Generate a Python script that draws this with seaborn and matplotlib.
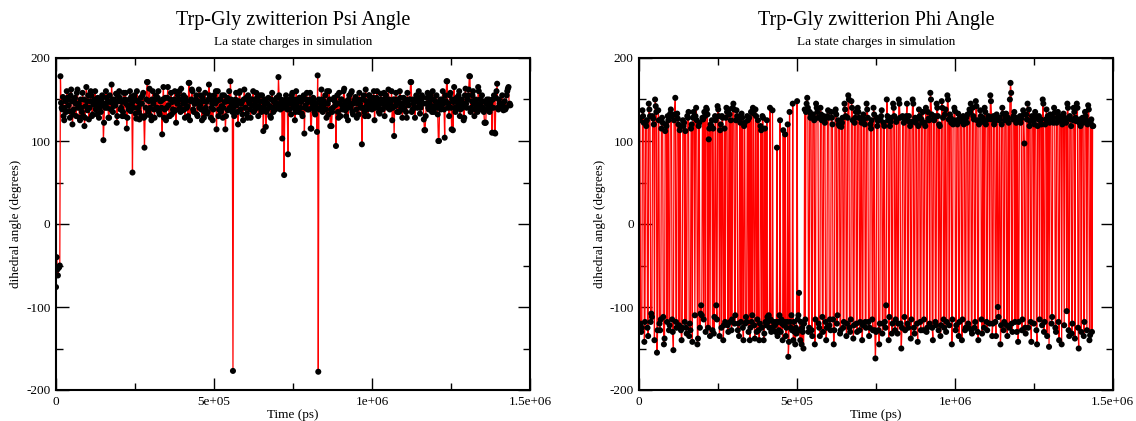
import numpy as np
import pandas as pd
import seaborn as sns
import matplotlib.pyplot as plt
from matplotlib.ticker import FixedLocator, FixedFormatter, MultipleLocator

sns.set_theme(style="ticks")
plt.rcParams['font.family'] = ['Liberation Serif', 'DejaVu Serif']

# Sampling interval of the dihedral trajectory (ps)
time_step_ps = 2000

# Psi dihedral angle (degrees), one value per frame
psi_deg = [
    -76, -40, -55, -62, -53, -52, -50, 178, 146, 140, 138, 153, 130, 125, 140, 148, 135, 160, 152, 150,
    143, 136, 128, 155, 162, 148, 120, 132, 138, 150, 152, 145, 130, 158, 162, 140, 145, 128, 125, 150,
    140, 135, 158, 130, 150, 118, 128, 142, 165, 148, 137, 155, 126, 140, 148, 160, 155, 130, 132, 144,
    145, 150, 160, 138, 140, 132, 152, 146, 128, 140, 147, 135, 150, 155, 143, 101, 122, 145, 140, 160,
    152, 140, 147, 128, 128, 155, 147, 138, 168, 150, 135, 142, 150, 145, 143, 157, 122, 130, 155, 148,
    160, 152, 138, 140, 147, 130, 135, 158, 130, 150, 158, 145, 115, 128, 142, 138, 150, 160, 136, 153,
    145, 62, 148, 140, 155, 150, 133, 127, 160, 148, 140, 135, 126, 145, 152, 130, 145, 155, 158, 128,
    92, 130, 140, 150, 171, 171, 135, 148, 163, 140, 130, 125, 150, 160, 145, 138, 128, 150, 155, 140,
    140, 152, 160, 135, 132, 148, 148, 140, 108, 150, 165, 128, 138, 152, 125, 140, 152, 165, 143, 130,
    130, 150, 158, 132, 147, 138, 135, 150, 160, 137, 122, 148, 145, 155, 150, 160, 140, 135, 163, 150,
    137, 145, 155, 138, 128, 152, 148, 140, 142, 130, 170, 170, 125, 148, 150, 162, 160, 138, 135, 145,
    145, 150, 155, 132, 130, 148, 162, 140, 143, 155, 138, 125, 152, 148, 128, 135, 158, 140, 147, 133,
    135, 150, 168, 155, 150, 128, 140, 145, 125, 138, 155, 150, 145, 160, 114, 148, 160, 130, 138, 150,
    150, 135, 142, 155, 128, 140, 155, 147, 114, 130, 148, 152, 137, 148, 160, 140, 172, 150, 145, 135,
    -177, 140, 130, 145, 150, 158, 143, 135, 120, 148, 158, 160, 138, 145, 147, 132, 125, 150, 162, 140,
    140, 152, 133, 128, 155, 148, 145, 138, 128, 150, 150, 143, 160, 135, 137, 148, 143, 158, 152, 140,
    130, 142, 148, 155, 140, 135, 155, 148, 112, 140, 145, 150, 117, 135, 138, 145, 152, 140, 142, 130,
    128, 150, 158, 140, 135, 147, 148, 138, 145, 152, 145, 140, 177, 155, 140, 138, 150, 145, 103, 140,
    145, 59, 142, 150, 155, 140, 138, 84, 145, 138, 150, 145, 132, 155, 158, 140, 145, 150, 125, 135,
    160, 145, 140, 150, 135, 152, 152, 140, 147, 133, 130, 150, 155, 109, 140, 143, 150, 158, 138, 147,
    138, 150, 158, 115, 115, 140, 145, 152, 150, 135, 132, 145, 140, 111, 179, -178, 150, 138, 140, 145,
    162, 150, 135, 140, 148, 145, 155, 138, 128, 160, 145, 132, 160, 150, 118, 138, 118, 135, 140, 150,
    152, 148, 143, 94, 145, 155, 135, 128, 158, 145, 130, 150, 150, 138, 142, 160, 163, 145, 137, 130,
    148, 140, 125, 150, 155, 145, 140, 158, 160, 135, 132, 145, 147, 150, 153, 138, 128, 150, 145, 132,
    158, 145, 140, 150, 96, 140, 150, 155, 135, 130, 162, 148, 143, 138, 130, 155, 155, 150, 145, 140,
    138, 145, 152, 160, 125, 140, 148, 152, 160, 145, 140, 135, 133, 150, 157, 145, 145, 138, 150, 158,
    130, 142, 155, 148, 142, 140, 162, 150, 138, 145, 148, 160, 125, 140, 150, 106, 150, 142, 158, 145,
    135, 150, 145, 135, 160, 152, 140, 145, 128, 138, 152, 140, 147, 150, 135, 128, 158, 145, 143, 150,
    150, 171, 171, 135, 138, 150, 145, 140, 128, 150, 155, 148, 140, 152, 160, 143, 133, 140, 148, 155,
    152, 145, 126, 113, 113, 130, 145, 152, 158, 140, 138, 145, 150, 155, 142, 135, 160, 150, 135, 140,
    148, 143, 155, 140, 132, 100, 100, 145, 150, 138, 143, 150, 160, 145, 138, 104, 155, 148, 172, 172,
    140, 145, 130, 155, 158, 140, 114, 150, 113, 147, 165, 140, 135, 138, 152, 148, 143, 155, 160, 130,
    138, 145, 150, 140, 145, 125, 128, 155, 163, 145, 140, 150, 155, 162, 178, 178, 135, 140, 148, 155,
    160, 145, 130, 138, 150, 145, 142, 135, 165, 160, 138, 150, 145, 140, 155, 148, 140, 135, 122, 122,
    122, 145, 150, 138, 143, 150, 135, 145, 148, 140, 110, 150, 140, 155, 110, 109, 152, 160, 169, 140,
    138, 150, 145, 142, 142, 140, 155, 145, 137, 140, 148, 138, 140, 155, 160, 163, 165, 143, 145, 143,
]

# Phi dihedral angle (degrees), one value per frame
phi_deg = [
    128, 125, -120, -130, -125, 137, 130, 122, -142, -118, 122, 118, 125, -125, -135, 145, 138, 130, -118, -108,
    -112, 130, 127, 120, -140, 150, 142, 135, -155, -128, 137, 125, -120, -128, -115, 115, 128, 122, -112, -145,
    -138, 112, 120, 118, -118, 130, 125, -128, -122, 133, 138, 130, -115, -130, -152, 125, 132, 152, -118, -125,
    133, 127, 120, -122, 113, 118, -128, -140, -125, 125, 118, 122, -118, 112, -125, -132, 130, 128, 135, -135,
    -120, -128, 115, 120, -142, 128, 135, 130, -110, 130, 140, 125, -145, -138, 118, 122, -125, -108, -98, -110,
    128, 126, -115, 135, 130, -130, 140, 138, 132, -125, 102, 115, -135, 120, 118, 125, -128, 115, -132, -112,
    130, 125, -98, -115, 142, 138, 130, -135, 113, 120, -125, 130, 128, -140, -122, 115, -118, 128, 140, 135,
    -122, -130, 138, 132, -118, 125, -128, -115, 140, 145, 138, -120, -110, 125, 137, 130, -128, -120, -135, 128,
    122, -118, 133, 128, -125, -140, 118, 122, -120, -112, -118, 130, 125, -130, 128, -140, -125, 135, -118, -110,
    140, 133, -122, -138, 138, 130, -130, -115, 125, -128, -140, -120, 118, 113, -125, 130, 128, -140, -132, 115,
    -118, -122, 125, -112, -118, -110, -125, 140, -115, -130, -125, 137, -128, -118, -120, -122, -130, -118, 92, -135,
    -118, -128, -110, 125, -130, -115, -120, -140, 113, -122, -118, 108, -135, -125, -118, 120, -160, -142, 135, -118,
    -125, -110, -128, 145, -140, -118, -130, -145, -125, -132, 148, -115, -110, -83, -128, -140, -118, -145, -125, -130,
    -150, -120, 138, -115, 135, 145, 152, 140, -130, -125, 135, 128, 132, -128, -135, 132, 128, 125, -145, -115,
    145, 140, 135, 128, -120, -125, -135, 140, 132, 125, -112, -130, 130, 125, 122, -118, -140, -125, 130, 137,
    128, -122, -115, -128, 135, 128, 120, -115, -145, -128, 135, 138, 132, -120, -110, 125, 120, 118, -132, -128,
    117, 122, 128, -125, -118, 145, 138, 130, -135, -120, 128, 155, 150, -125, -130, -115, 148, 140, 125, -138,
    -122, 122, 128, 135, -120, -130, 140, 135, 128, -128, -118, 127, 122, -140, -122, 132, 126, 120, -118, -125,
    145, 138, 128, -118, -135, -125, 120, 115, 125, -115, -128, 140, 132, -128, -162, -130, 128, 118, 124, -128,
    -145, -120, 126, 130, 137, -132, -120, 122, 118, -118, -125, -98, 150, 130, 125, -140, -112, 118, 123, 128,
    -132, -120, 145, 140, 130, -128, -115, 123, 126, -132, -120, 150, 145, 128, -120, -150, -125, 130, 128, 122,
    -112, -128, 125, 130, 145, -120, -125, 130, 123, 118, -138, -115, 123, 150, 145, -125, -132, 128, 122, 126,
    -120, -142, 118, 138, 130, -118, -128, 126, 122, 135, -128, -115, 122, 118, 140, -130, -125, 135, 127, 125,
    -120, 158, 150, 132, -125, -140, 126, 125, 130, -118, -122, 145, 140, 130, -128, 120, 118, -135, -122, 148,
    140, 128, -115, -125, 132, 138, -130, -118, 155, 150, 126, -122, 132, 128, 122, -145, -115, 120, 125, 140,
    136, -128, -122, 125, 120, 133, -135, -118, 128, 124, 125, -140, -115, 130, 120, 126, -128, -125, 128, 122,
    132, -120, -125, 138, 135, 145, -128, -132, 140, 130, 126, -125, -118, 148, 142, 125, -130, -140, 120, 125,
    137, 130, -115, -132, 128, 123, -125, 140, 135, 120, -118, -128, 126, 130, 128, -120, 155, 148, 126, -135,
    -120, 130, 120, 124, -118, -135, 132, 128, -100, -112, 125, 128, -145, -122, 120, 140, 133, -128, -118, 125,
    130, 133, -122, -135, 128, 122, -125, 150, 170, 158, -120, -130, 126, 130, 135, -118, 128, 122, -130, 126,
    -142, -118, 125, 130, 122, 127, -128, -115, 137, 132, 97, -125, -132, 132, 126, 145, -125, 138, 118, 124,
    -118, -142, 130, 125, 124, -120, 120, 135, 130, -128, -145, 118, 126, 130, -115, 125, 126, 120, -122, 150,
    145, -130, -118, 120, 126, 138, -135, 130, 125, -148, 122, 132, 128, -120, -112, 128, 122, 140, 134, -125,
    -130, 122, 128, 135, -118, -140, 130, 128, 124, -145, 120, 126, 133, -122, 128, 126, 122, -105, 145, 140,
    -128, -135, 130, 126, 118, -132, -120, 125, 140, 135, -138, 128, 124, 145, 140, -125, -150, 122, 126, 118,
    -130, 124, 128, 122, -135, -118, 135, 130, 125, -128, 120, 143, 138, -140, -134, 122, 126, -130, 118, 118,
]

panel_titles = ["Trp-Gly zwitterion Psi Angle", "Trp-Gly zwitterion Phi Angle"]
subtitle = "La state charges in simulation"
x_label = "Time (ps)"
y_label = "dihedral angle (degrees)"
x_tick_values = [0, 500000, 1000000, 1500000]
x_tick_labels = ["0", "5e+05", "1e+06", "1.5e+06"]
y_tick_values = [-200, -100, 0, 100, 200]
y_tick_labels = ["-200", "-100", "0", "100", "200"]


def frame(values):
    return pd.DataFrame({"time": np.arange(len(values)) * time_step_ps,
                         "angle": values})


W, H = 1136, 421
fig = plt.figure(figsize=(W / 100, H / 100), dpi=100)
ax_psi = fig.add_axes([56 / W, 31 / H, 474 / W, 332 / H])
ax_phi = fig.add_axes([639.3 / W, 31 / H, 473.5 / W, 332 / H])

for ax, values, title in zip([ax_psi, ax_phi], [psi_deg, phi_deg], panel_titles):
    df = frame(values)
    sns.lineplot(data=df, x="time", y="angle", ax=ax, color="red",
                 linewidth=0.9, sort=False, estimator=None, zorder=2)
    sns.scatterplot(data=df, x="time", y="angle", ax=ax, color="black",
                    s=19, linewidth=0, edgecolor="none", zorder=3)

    ax.set_xlim(0, 1500000)
    ax.set_ylim(-200, 200)
    ax.xaxis.set_major_locator(FixedLocator(x_tick_values))
    ax.xaxis.set_major_formatter(FixedFormatter(x_tick_labels))
    ax.xaxis.set_minor_locator(MultipleLocator(250000))
    ax.yaxis.set_major_locator(FixedLocator(y_tick_values))
    ax.yaxis.set_major_formatter(FixedFormatter(y_tick_labels))
    ax.yaxis.set_minor_locator(MultipleLocator(50))

    ax.tick_params(which="both", direction="in", top=True, right=True,
                   width=1.0, color="black", labelsize=9.5, labelcolor="black")
    ax.tick_params(which="major", length=9, pad=4)
    ax.tick_params(which="minor", length=5)
    for sp in ax.spines.values():
        sp.set_visible(True)
        sp.set_linewidth(1.5)
        sp.set_color("black")

    ax.set_xlabel(x_label, fontsize=9.5, color="black")
    ax.xaxis.set_label_coords(0.5, -0.057)
    ax.set_ylabel(y_label, fontsize=9.5, color="black", va="center")
    ax.yaxis.set_label_coords(-0.084, 0.5)

    ax.text(0.5, 1.112, title, transform=ax.transAxes, ha="center",
            va="center", fontsize=14.5, color="black")
    ax.text(0.5, 1.049, subtitle, transform=ax.transAxes, ha="center",
            va="center", fontsize=9.5, color="black")

fig.savefig("out.png", dpi=100, facecolor="white")
